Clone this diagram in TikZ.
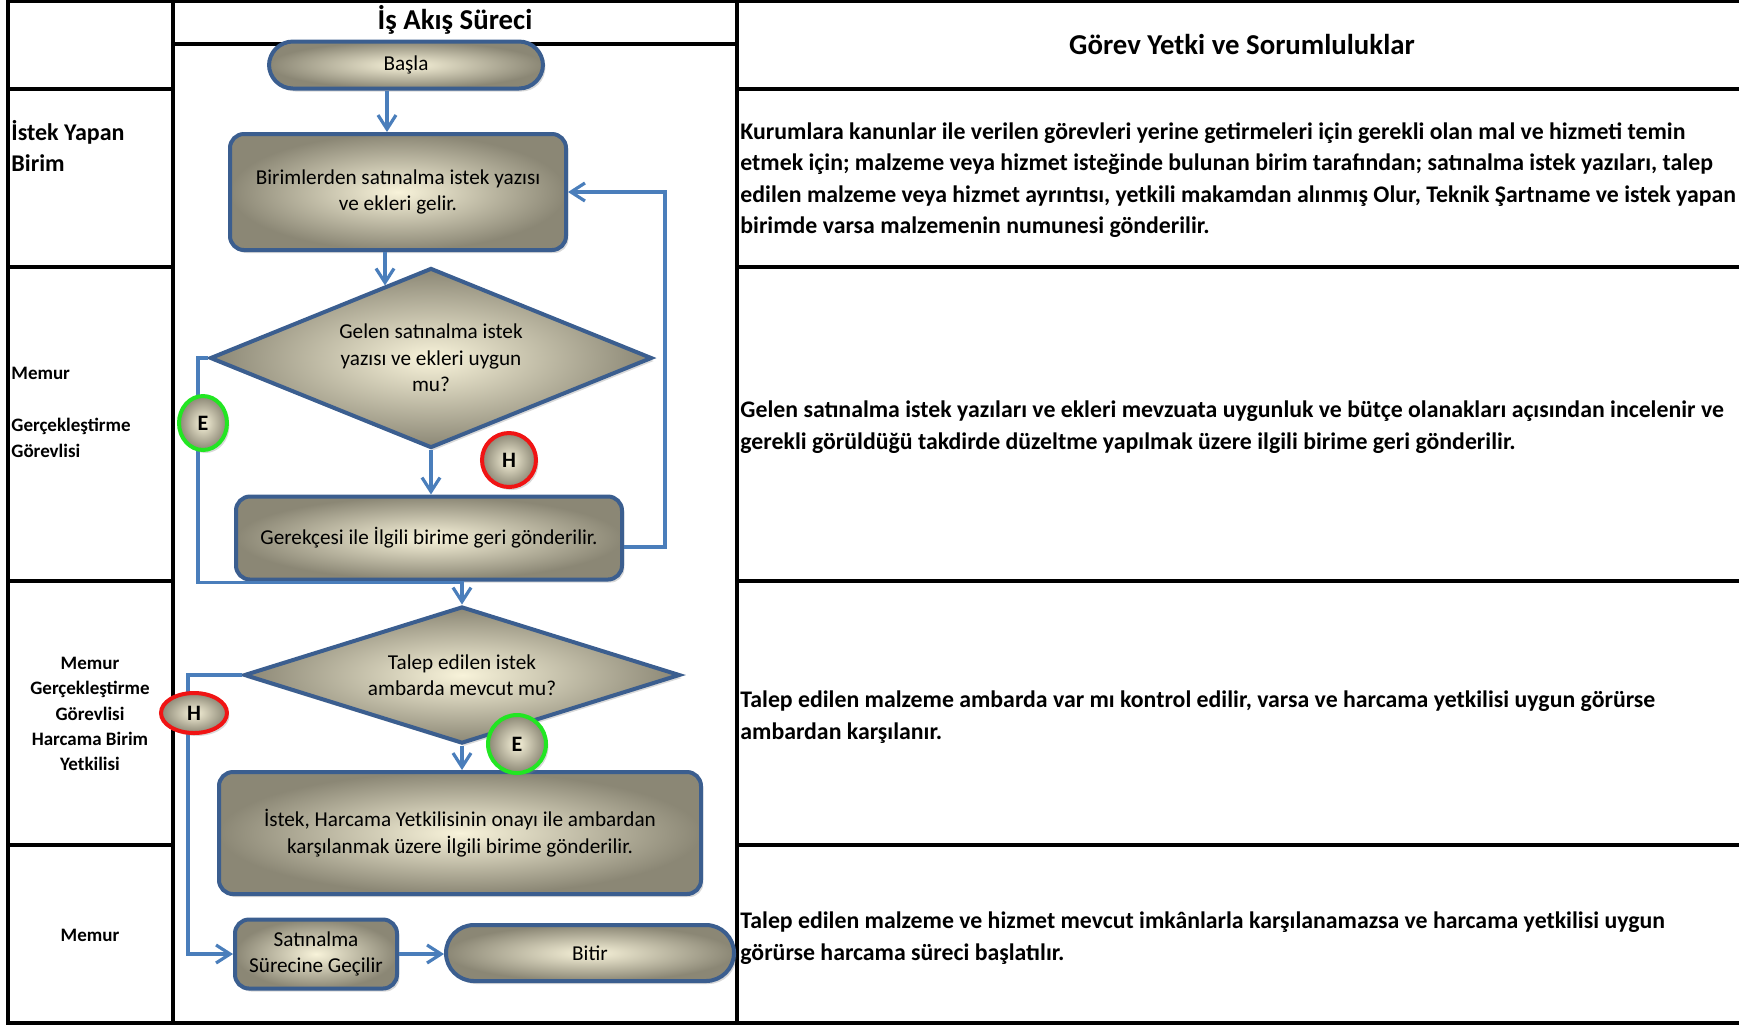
\documentclass[tikz,border=0pt]{standalone}
\usepackage{fontspec}
\setmainfont{Carlito}
\usetikzlibrary{shapes.geometric,arrows.meta,shadows}

\definecolor{flowline}{HTML}{4A7EBB}
\definecolor{shapeedge}{HTML}{3B5E8F}
\definecolor{shadein}{HTML}{F8F3DA}
\definecolor{shadeout}{HTML}{8B8775}
\definecolor{yesring}{HTML}{22E622}
\definecolor{noring}{HTML}{F01414}

\begin{document}
\begin{tikzpicture}[x=0.5pt,y=-0.5pt]
  \tikzstyle{grid line}=[line width=2pt,line cap=rect]
  \tikzstyle{flow shape}=[draw=shapeedge,line width=2pt,inner color=shadein,outer color=shadeout,
      align=center,inner sep=0pt,font=\fontsize{10.6}{13.3}\selectfont,
      drop shadow={opacity=0.3,shadow xshift=1.2pt,shadow yshift=-1.5pt}]
  \tikzstyle{terminal}=[flow shape,rectangle,rounded corners=12pt]
  \tikzstyle{process}=[flow shape,rectangle,rounded corners=7pt]
  \tikzstyle{decision}=[flow shape,diamond]
  \tikzstyle{answer}=[flow shape,ellipse,font=\fontsize{11}{13}\bfseries]
  \tikzstyle{flow}=[draw=flowline,line width=1.6pt,-{Straight Barb[length=7pt,width=9pt,line width=1.6pt]}]
  \tikzstyle{head}=[font=\fontsize{14.4}{17}\bfseries]
  \tikzstyle{role}=[align=left,font=\fontsize{9.5}{12.7}\bfseries]
  \tikzstyle{duty}=[anchor=west,align=left,inner sep=0pt,font=\fontsize{11.9}{15.7}\bfseries]

  \useasboundingbox (0,0) rectangle (1739,1025);

  % table
  \draw[grid line] (8,1) -- (1739,1);
  \draw[grid line] (8,1) -- (8,1023) -- (1739,1023);
  \draw[grid line] (173,1) -- (173,1023);
  \draw[grid line] (737,1) -- (737,1023);
  \draw[grid line] (173,44) -- (737,44);
  \foreach \y in {89,267,581,845}{
    \draw[grid line] (8,\y) -- (173,\y);
    \draw[grid line] (737,\y) -- (1739,\y);
  }

  \node(title)[head] at (455,20) {İş Akış Süreci};
  \node(duties)[head] at (1242,44) {Görev Yetki ve Sorumluluklar};

  % roles
  \node(r1)[role,anchor=west,inner sep=0pt,font=\fontsize{12}{15.5}\bfseries] at (11,146) {İstek Yapan\\Birim};
  \node(r2)[role,anchor=west,inner sep=0pt] at (11,412) {Memur\\[13.5pt]Gerçekleştirme\\Görevlisi};
  \node(r3)[role,align=center] at (90,714) {Memur\\Gerçekleştirme\\Görevlisi\\Harcama Birim\\Yetkilisi};
  \node(r4)[role,align=center] at (90,935) {Memur};

  % flow
  \node(start)[terminal,minimum width=137pt,minimum height=23.5pt] at (406,65) {Başla};
  \node(birim)[process,minimum width=168pt,minimum height=58pt] at (398,192)
      {Birimlerden satınalma istek yazısı\\ve ekleri gelir.};
  \node(uygun)[decision,shape aspect=2.45,minimum width=221pt,minimum height=90pt] at (431,358)
      {Gelen satınalma istek\\yazısı ve ekleri uygun\\mu?};
  \node(iade)[process,minimum width=193pt,minimum height=41.5pt] at (429,538)
      {Gerekçesi ile İlgili birime geri gönderilir.};
  \node(ambar)[decision,shape aspect=3.2,minimum width=218pt,minimum height=68.5pt] at (462,675)
      {Talep edilen istek\\ambarda mevcut mu?};
  \node(onay)[process,minimum width=241pt,minimum height=61pt] at (460,833)
      {İstek, Harcama Yetkilisinin onayı ile ambardan\\karşılanmak üzere İlgili birime gönderilir.};
  \node(satin)[process,minimum width=81pt,minimum height=34.5pt] at (316,954)
      {Satınalma\\Sürecine Geçilir};
  \node(stop)[terminal,minimum width=144pt,minimum height=28pt,rounded corners=14pt] at (590,953) {Bitir};

  \draw[flow] ([xshift=-9.5pt]start.south) -- ([xshift=-9.5pt]start.south |- birim.north);
  \draw[flow] ([xshift=-6.5pt]birim.south) -- ([xshift=-6.5pt]birim.south |- uygun.123);
  \draw[flow] (uygun.south) -- (uygun.south |- iade.north);
  \draw[flow] ([yshift=-4.5pt]iade.east) -- ++(41,0) |- (birim.east);
  \draw[flow] (uygun.west) -- ++(-10,0) |- ([yshift=11pt]ambar.north) -- (ambar.north);
  \draw[flow] (ambar.south) -- (ambar.south |- onay.north);
  \draw[flow] (ambar.west) -- ++(-54,0) |- (satin.west);
  \draw[flow] (satin.east) -- (satin.east -| stop.west);

  \node(e1)[answer,draw=yesring,minimum width=24pt,minimum height=27pt] at (203,423) {E};
  \node(h1)[answer,draw=noring,minimum width=27pt,minimum height=27pt] at (509,460) {H};
  \node(h2)[answer,draw=noring,minimum width=33pt,minimum height=20pt] at (194,713) {H};
  \node(e2)[answer,draw=yesring,minimum width=29pt,minimum height=29pt] at (517,744) {E};

  % duties
  \node(d1)[duty] at (740,180) {Kurumlara kanunlar ile verilen görevleri yerine getirmeleri için gerekli olan mal ve hizmeti temin\\
      etmek için; malzeme veya hizmet isteğinde bulunan birim tarafından; satınalma istek yazıları, talep\\
      edilen malzeme veya hizmet ayrıntısı, yetkili makamdan alınmış Olur, Teknik Şartname ve istek yapan\\
      birimde varsa malzemenin numunesi gönderilir.};
  \node(d2)[duty] at (740,427) {Gelen satınalma istek yazıları ve ekleri mevzuata uygunluk ve bütçe olanakları açısından incelenir ve\\
      gerekli görüldüğü takdirde düzeltme yapılmak üzere ilgili birime geri gönderilir.};
  \node(d3)[duty] at (740,717) {Talep edilen malzeme ambarda var mı kontrol edilir, varsa ve harcama yetkilisi uygun görürse\\
      ambardan karşılanır.};
  \node(d4)[duty] at (740,938) {Talep edilen malzeme ve hizmet mevcut imkânlarla karşılanamazsa ve harcama yetkilisi uygun\\
      görürse harcama süreci başlatılır.};
\end{tikzpicture}
\end{document}
